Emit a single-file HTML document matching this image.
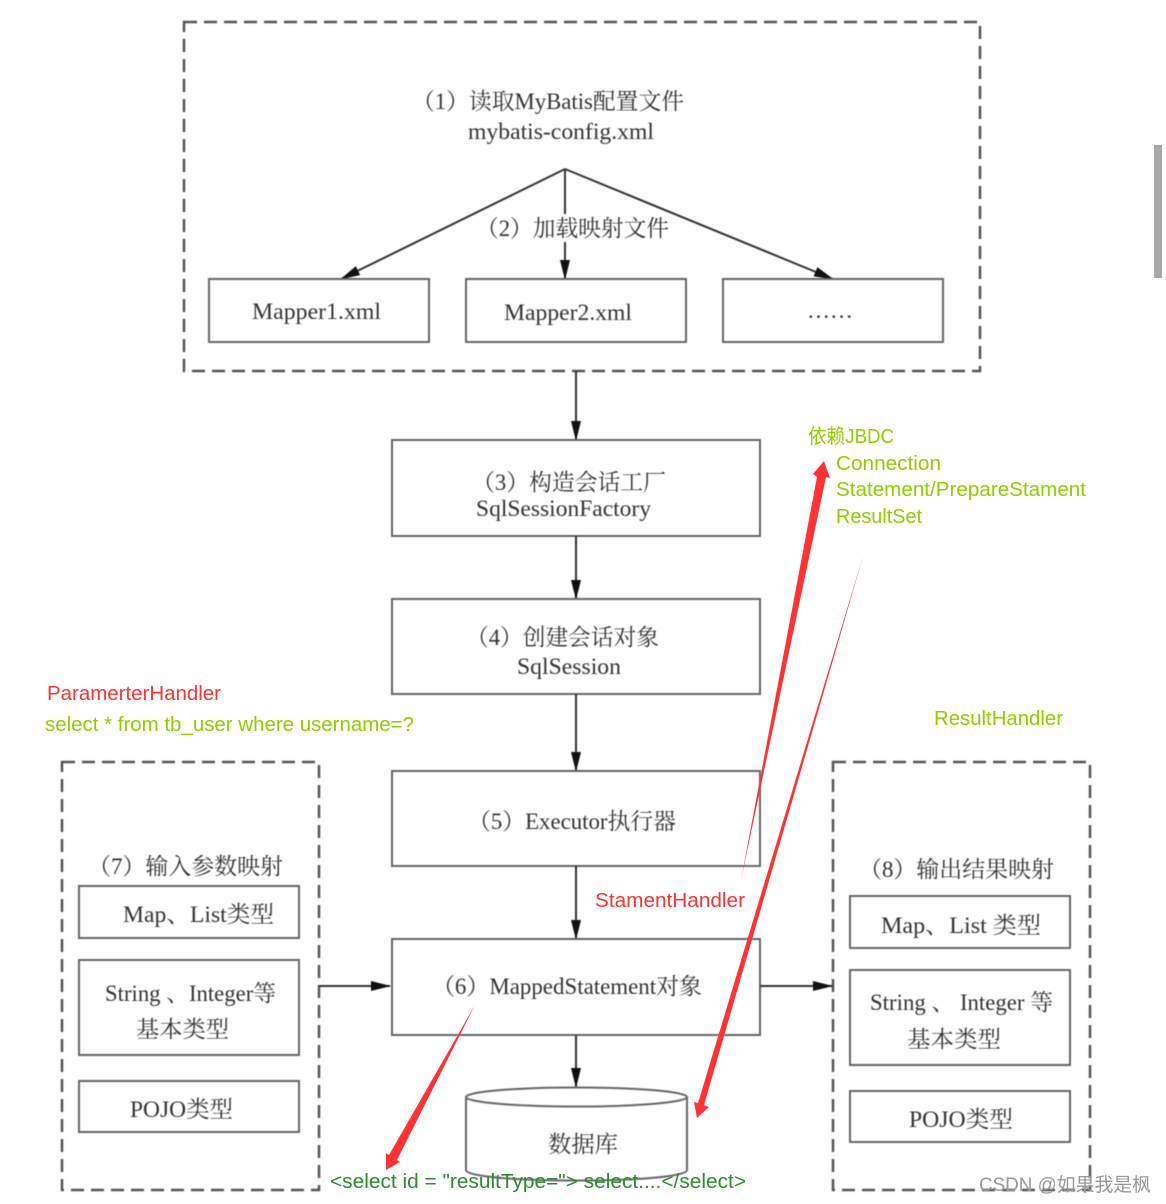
<!DOCTYPE html>
<html><head><meta charset="utf-8"><style>
html,body{margin:0;padding:0;background:#fff;width:1166px;height:1204px;overflow:hidden}
svg{display:block}
.s{font-family:"Liberation Serif","Noto Serif CJK SC",serif;fill:#333;font-size:23px}
.a{font-family:"Liberation Sans","Noto Sans CJK SC",sans-serif;font-size:20px}
.lg{fill:#8fce00}.dg{fill:#2e8b2e}.r{fill:#ff3333}
.box{fill:none;stroke:#666;stroke-width:2}
.dash{fill:none;stroke:#555;stroke-width:2.5;stroke-dasharray:13 7}
.ln{fill:none;stroke:#333;stroke-width:2}
.soft{filter:blur(0.5px)}
</style></head><body>
<svg width="1166" height="1204" viewBox="0 0 1166 1204" xmlns="http://www.w3.org/2000/svg">
<defs><marker id="m" markerWidth="20" markerHeight="10" refX="19" refY="5" orient="auto" markerUnits="userSpaceOnUse"><path d="M0 0L20 5L0 10Z" fill="#111"/></marker></defs>
<rect width="1166" height="1204" fill="#fff"/>
<rect x="1154" y="145" width="8" height="133" fill="#a8a8a8"/>

<g class="soft">
<rect class="dash" x="184" y="22" width="796" height="349"/>
<text class="s" x="412" y="109" textLength="272" lengthAdjust="spacingAndGlyphs">（1）读取MyBatis配置文件</text>
<text class="s" x="468" y="139" textLength="186" lengthAdjust="spacingAndGlyphs">mybatis-config.xml</text>
<path class="ln" d="M565 169L341 279" marker-end="url(#m)"/>
<path class="ln" d="M565 169V279" marker-end="url(#m)"/>
<path class="ln" d="M565 169L833 279" marker-end="url(#m)"/>
<rect x="478" y="214" width="194" height="28" fill="#fff"/>
<text class="s" x="476" y="236" textLength="193" lengthAdjust="spacingAndGlyphs">（2）加载映射文件</text>
<rect class="box" x="209" y="279" width="220" height="63"/>
<rect class="box" x="466" y="279" width="220" height="63"/>
<rect class="box" x="723" y="279" width="220" height="63"/>
<text class="s" x="252" y="319" textLength="129" lengthAdjust="spacingAndGlyphs">Mapper1.xml</text>
<text class="s" x="504" y="320" textLength="128" lengthAdjust="spacingAndGlyphs">Mapper2.xml</text>
<text class="s" x="807" y="318" textLength="46" lengthAdjust="spacing">……</text>

<path class="ln" d="M576 371V440" marker-end="url(#m)"/>
<rect class="box" x="392" y="440" width="368" height="96"/>
<text class="s" x="472" y="490" textLength="194" lengthAdjust="spacingAndGlyphs">（3）构造会话工厂</text>
<text class="s" x="476" y="516" textLength="175" lengthAdjust="spacingAndGlyphs">SqlSessionFactory</text>
<path class="ln" d="M576 536V599" marker-end="url(#m)"/>
<rect class="box" x="392" y="599" width="368" height="95"/>
<text class="s" x="466" y="645" textLength="193" lengthAdjust="spacingAndGlyphs">（4）创建会话对象</text>
<text class="s" x="517" y="674" textLength="104" lengthAdjust="spacingAndGlyphs">SqlSession</text>
<path class="ln" d="M576 694V771" marker-end="url(#m)"/>
<rect class="box" x="392" y="771" width="368" height="95"/>
<text class="s" x="468" y="829" textLength="208" lengthAdjust="spacingAndGlyphs">（5）Executor执行器</text>
<path class="ln" d="M576 866V939" marker-end="url(#m)"/>
<rect class="box" x="392" y="939" width="368" height="96"/>
<text class="s" x="432" y="994" textLength="270" lengthAdjust="spacingAndGlyphs">（6）MappedStatement对象</text>
<path class="ln" d="M576 1035V1087" marker-end="url(#m)"/>

<path d="M466 1097V1170C466 1184 687 1184 687 1170V1097" fill="#fff" stroke="#666" stroke-width="2"/>
<ellipse cx="576.5" cy="1097" rx="110.5" ry="9.5" fill="#fff" stroke="#666" stroke-width="2"/>
<text class="s" x="548" y="1152" textLength="70" lengthAdjust="spacingAndGlyphs">数据库</text>

<rect class="dash" x="62" y="762" width="257" height="428"/>
<text class="s" x="88" y="874" textLength="195" lengthAdjust="spacingAndGlyphs">（7）输入参数映射</text>
<rect class="box" x="79" y="886" width="220" height="52"/>
<text class="s" x="123" y="922" textLength="151" lengthAdjust="spacingAndGlyphs">Map、List类型</text>
<rect class="box" x="79" y="960" width="220" height="95"/>
<text class="s" x="105" y="1001" textLength="171" lengthAdjust="spacingAndGlyphs">String 、Integer等</text>
<text class="s" x="136" y="1037" textLength="93" lengthAdjust="spacingAndGlyphs">基本类型</text>
<rect class="box" x="79" y="1081" width="220" height="51"/>
<text class="s" x="130" y="1117" textLength="103" lengthAdjust="spacingAndGlyphs">POJO类型</text>

<rect class="dash" x="833" y="762" width="257" height="428"/>
<text class="s" x="859" y="877" textLength="195" lengthAdjust="spacingAndGlyphs">（8）输出结果映射</text>
<rect class="box" x="850" y="896" width="220" height="52"/>
<text class="s" x="881" y="933" textLength="160" lengthAdjust="spacingAndGlyphs">Map、List 类型</text>
<rect class="box" x="850" y="970" width="220" height="95"/>
<text class="s" x="870" y="1010" textLength="183" lengthAdjust="spacingAndGlyphs">String 、 Integer 等</text>
<text class="s" x="907" y="1047" textLength="94" lengthAdjust="spacingAndGlyphs">基本类型</text>
<rect class="box" x="850" y="1091" width="220" height="51"/>
<text class="s" x="909" y="1127" textLength="104" lengthAdjust="spacingAndGlyphs">POJO类型</text>

<path class="ln" d="M319 986H390" marker-end="url(#m)"/>
<path class="ln" d="M760 986H832" marker-end="url(#m)"/>
</g>

<!-- red arrows -->
<path d="M741 880L817 477L813 474L824 461L830 478L826 477Z" fill="#ff3333"/>
<path d="M864 553L704 1105L709 1107L697 1118L694 1102L698 1103Z" fill="#ff3333"/>
<path d="M475 1005L397 1160L400 1162L386 1170L386 1153L389 1155Z" fill="#ff3333"/>

<!-- annotations -->
<text class="a lg" x="808" y="443" textLength="86" lengthAdjust="spacingAndGlyphs">依赖JBDC</text>
<text class="a lg" x="836" y="470" textLength="105" lengthAdjust="spacingAndGlyphs">Connection</text>
<text class="a lg" x="836" y="496" textLength="250" lengthAdjust="spacingAndGlyphs">Statement/PrepareStament</text>
<text class="a lg" x="836" y="523" textLength="86" lengthAdjust="spacingAndGlyphs">ResultSet</text>
<text class="a r" x="47" y="700" textLength="174" lengthAdjust="spacingAndGlyphs">ParamerterHandler</text>
<text class="a lg" x="45" y="731" textLength="369" lengthAdjust="spacingAndGlyphs">select * from tb_user where username=?</text>
<text class="a lg" x="934" y="725" textLength="129" lengthAdjust="spacingAndGlyphs">ResultHandler</text>
<text class="a r" x="595" y="907" textLength="150" lengthAdjust="spacingAndGlyphs">StamentHandler</text>
<text class="a dg" x="330" y="1188" textLength="416" lengthAdjust="spacingAndGlyphs">&lt;select id = "resultType="&gt; select....&lt;/select&gt;</text>
<text x="979" y="1191" textLength="172" lengthAdjust="spacingAndGlyphs" font-family="'Liberation Sans','Noto Sans CJK SC',sans-serif" font-size="19" fill="#999">CSDN @如果我是枫</text>
</svg>
</body></html>
